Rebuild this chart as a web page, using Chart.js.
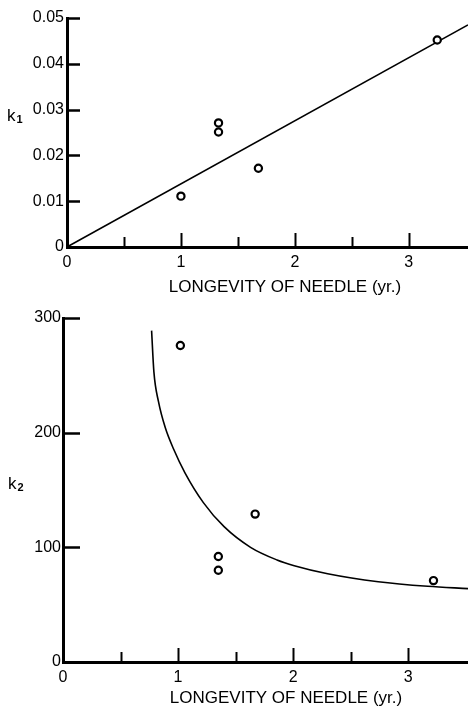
<!DOCTYPE html>
<html>
<head>
<meta charset="utf-8">
<script src="https://cdn.jsdelivr.net/npm/chart.js@4/dist/chart.umd.min.js"></script>
<style>
  html, body { margin: 0; padding: 0; background: #fff; }
  #wrap { position: relative; width: 468px; height: 710px; background: #fff; }
  .panel { position: absolute; left: 0; width: 468px; }
  #top { top: 0; height: 300px; }
  #bottom { top: 300px; height: 410px; }
</style>
</head>
<body>
<div id="wrap">
  <div class="panel" id="top"><canvas id="c1" width="468" height="300"></canvas></div>
  <div class="panel" id="bottom"><canvas id="c2" width="468" height="410"></canvas></div>
</div>
<script>
// Upper panel: rate constant k1 against needle longevity
const k1Longevity = [1.0, 1.33, 1.33, 1.68, 3.25];
const k1Values = [0.0111, 0.0271, 0.0251, 0.0172, 0.0452];
const k1FitX = [0, 3.52];
const k1FitY = [0, 0.0485];
const k1TickValues = [0, 0.01, 0.02, 0.03, 0.04, 0.05];

// Lower panel: rate constant k2 against needle longevity
const k2Longevity = [1.02, 1.35, 1.35, 1.67, 3.22];
const k2Values = [276, 92, 80, 129, 71];
const k2CurveX = [0.77, 0.79, 0.83, 0.89, 0.96, 1.06, 1.22, 1.40, 1.63, 1.86, 2.01, 2.30, 2.74, 3.17, 3.52];
const k2CurveY = [289, 253, 227, 204, 186, 165, 139, 118, 100, 89, 84, 77, 70, 66, 64];
const k2TickValues = [0, 100, 200, 300];

// Shared x axis
const xLabelValues = [0, 1, 2, 3];
const xMarkValues = [0.5, 1, 1.5, 2, 2.5, 3];
const xTitle = 'LONGEVITY OF NEEDLE (yr.)';
const xMax = 3.52;

const FONT = "'Liberation Sans', Arial, Helvetica, sans-serif";

function toPoints(xs, ys) { return xs.map((x, i) => ({ x, y: ys[i] })); }

// Inward tick marks, axis title and y label drawn over the frame
function framePlugin(cfg) {
  return {
    id: 'frame',
    afterDraw(chart) {
      const { ctx, chartArea, scales } = chart;
      const x = scales.x, y = scales.y;
      ctx.save();
      ctx.strokeStyle = '#000';
      ctx.lineWidth = 2.5;
      ctx.lineCap = 'butt';
      // y ticks pointing into the plot
      cfg.yMarks.forEach(v => {
        const py = Math.round(y.getPixelForValue(v)) + 0.5;
        ctx.beginPath();
        ctx.moveTo(chartArea.left, py);
        ctx.lineTo(chartArea.left + cfg.yTickLen, py);
        ctx.stroke();
      });
      // x ticks pointing up, longer at whole years
      ctx.lineWidth = 2;
      xMarkValues.forEach(v => {
        const px = Math.round(x.getPixelForValue(v)) + 0.5;
        const len = Number.isInteger(v) ? 14 : 10;
        ctx.beginPath();
        ctx.moveTo(px, chartArea.bottom);
        ctx.lineTo(px, chartArea.bottom - len);
        ctx.stroke();
      });
      // axis title
      ctx.fillStyle = '#000';
      ctx.font = '17px ' + FONT;
      ctx.textAlign = 'center';
      ctx.textBaseline = 'middle';
      ctx.fillText(xTitle, cfg.titleX, cfg.titleY);
      // y label with subscript
      ctx.textAlign = 'left';
      ctx.font = '17px ' + FONT;
      ctx.fillText('k', cfg.kX, cfg.kY);
      const kw = ctx.measureText('k').width;
      ctx.font = 'bold 11px ' + FONT;
      ctx.fillText(cfg.sub, cfg.kX + kw + 1, cfg.kY + 4);
      ctx.restore();
    }
  };
}

function makeOptions(opt) {
  return {
    responsive: false,
    animation: false,
    events: [],
    layout: { autoPadding: false, padding: { top: 18, right: 0, left: 0, bottom: 0 } },
    plugins: { legend: { display: false }, tooltip: { enabled: false } },
    scales: {
      x: {
        type: 'linear',
        min: 0,
        max: xMax,
        grid: { display: true, drawOnChartArea: false, drawTicks: false, color: 'rgba(0,0,0,0)' },
        border: { display: true, color: '#000', width: 3 },
        ticks: { color: '#000', padding: 6, font: { family: FONT, size: 16 }, maxRotation: 0 },
        afterBuildTicks: s => { s.ticks = xLabelValues.map(v => ({ value: v })); },
        afterFit: s => { s.height = opt.xHeight; }
      },
      y: {
        type: 'linear',
        min: opt.yMin,
        max: opt.yMax,
        grid: { display: true, drawOnChartArea: false, drawTicks: false, color: 'rgba(0,0,0,0)' },
        border: { display: true, color: '#000', width: 3 },
        ticks: {
          color: '#000',
          padding: opt.yPad,
          font: { family: FONT, size: 16 },
          callback: opt.yFormat
        },
        afterBuildTicks: s => { s.ticks = opt.yTicks.map(v => ({ value: v })); },
        afterFit: s => { s.width = opt.yWidth; }
      }
    }
  };
}

const pointStyle = {
  showLine: false,
  pointStyle: 'circle',
  pointRadius: 3.6,
  pointBorderWidth: 2.2,
  pointBackgroundColor: '#fff',
  pointBorderColor: '#000'
};

new Chart(document.getElementById('c1'), {
  type: 'scatter',
  data: {
    datasets: [
      {
        data: toPoints(k1FitX, k1FitY),
        showLine: true,
        borderColor: '#000',
        borderWidth: 1.6,
        pointRadius: 0,
        order: 2
      },
      Object.assign({ data: toPoints(k1Longevity, k1Values), order: 1 }, pointStyle)
    ]
  },
  options: makeOptions({
    yMin: 0, yMax: 0.05, yTicks: k1TickValues, yWidth: 67, yPad: 3, xHeight: 53,
    yFormat: v => (v === 0 ? '0' : v.toFixed(2))
  }),
  plugins: [framePlugin({ yMarks: k1TickValues.slice(1), yTickLen: 13, titleX: 285, titleY: 287, kX: 7, kY: 116, sub: '1' })]
});

new Chart(document.getElementById('c2'), {
  type: 'scatter',
  data: {
    datasets: [
      {
        data: toPoints(k2CurveX, k2CurveY),
        showLine: true,
        borderColor: '#000',
        borderWidth: 1.6,
        pointRadius: 0,
        cubicInterpolationMode: 'monotone',
        order: 2
      },
      Object.assign({ data: toPoints(k2Longevity, k2Values), order: 1 }, pointStyle)
    ]
  },
  options: makeOptions({
    yMin: 0, yMax: 300, yTicks: k2TickValues, yWidth: 63, yPad: 2, xHeight: 48,
    yFormat: v => String(v)
  }),
  plugins: [framePlugin({ yMarks: k2TickValues.slice(1), yTickLen: 17, titleX: 286, titleY: 398, kX: 8, kY: 184, sub: '2' })]
});
</script>
</body>
</html>
